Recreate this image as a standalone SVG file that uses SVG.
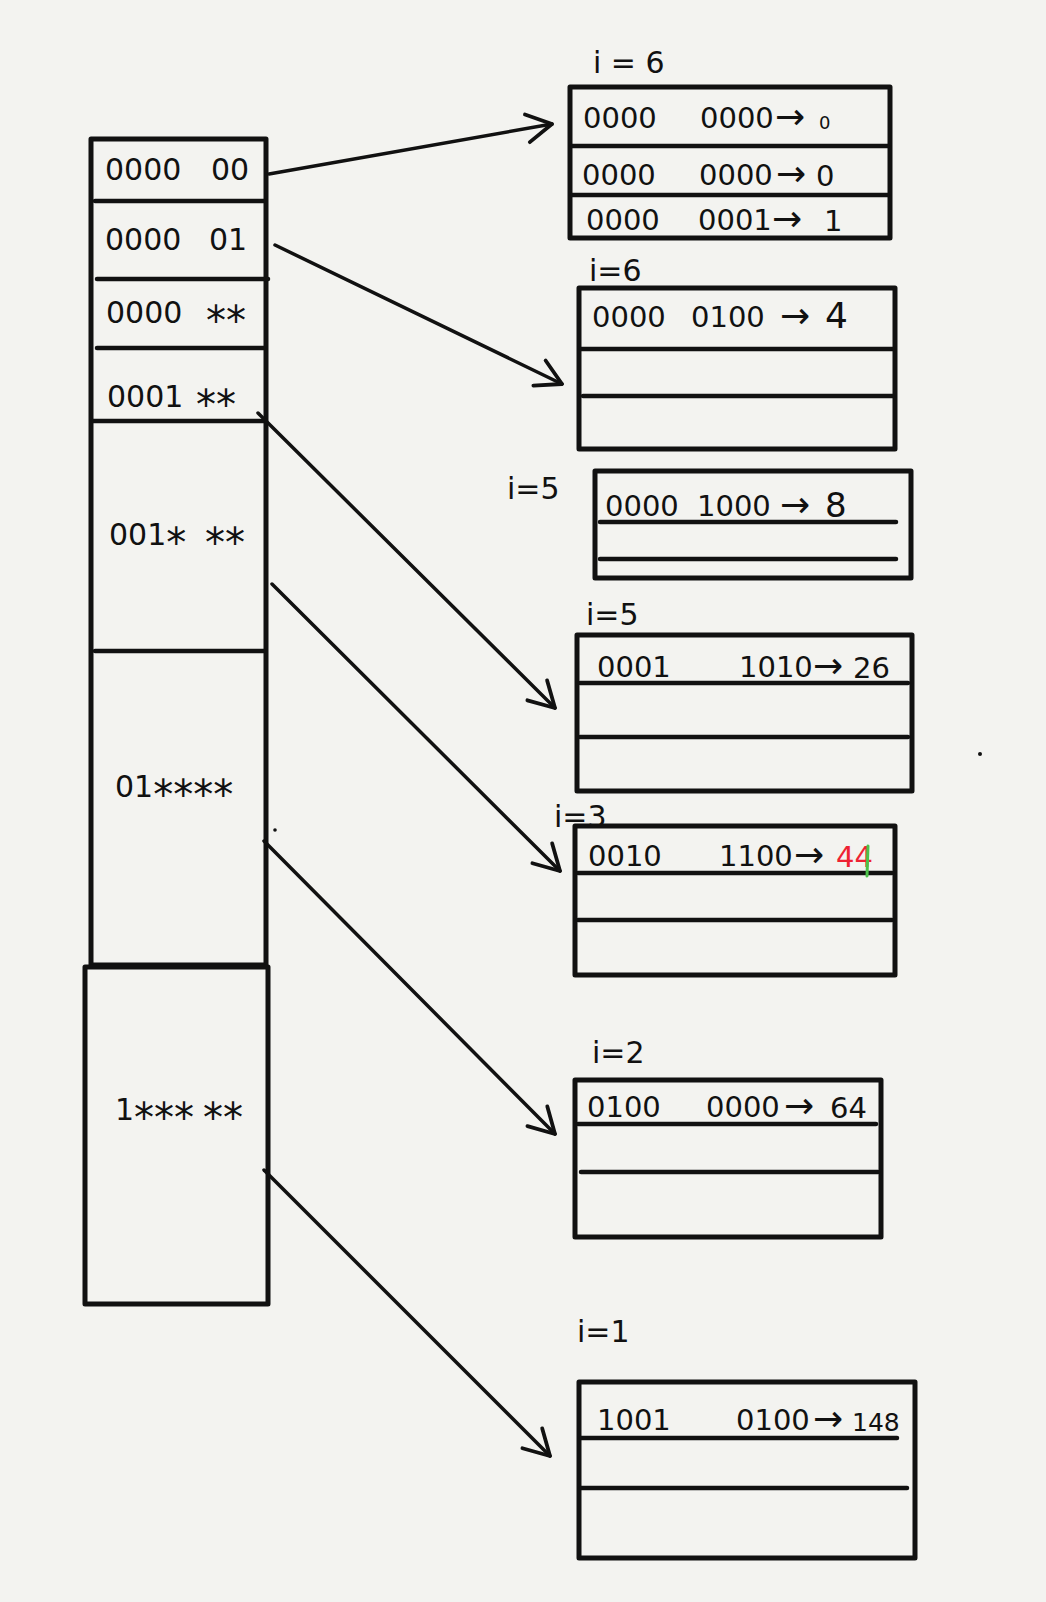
<svg xmlns="http://www.w3.org/2000/svg" width="1046" height="1602" viewBox="0 0 1046 1602">
<style>
.box{fill:none;stroke:#111;stroke-width:5;stroke-linejoin:round}
.ln{stroke:#111;stroke-width:4.5;stroke-linecap:round}
.con{stroke:#111;stroke-width:3.5;stroke-linecap:round;fill:none}
text{font-family:"DejaVu Sans","Liberation Sans",sans-serif;fill:#111}
.t{font-size:29px}
.tl{font-size:30px}
.st{font-size:40px}
.ar{font-size:36px}
.lab{font-size:30px}
</style>
<defs>
<marker id="ah" markerUnits="userSpaceOnUse" markerWidth="40" markerHeight="40" viewBox="-30 -20 40 40" refX="0" refY="0" orient="auto" overflow="visible">
<path d="M-25,-14 L0,0 L-25,14" fill="none" stroke="#111" stroke-width="3.8" stroke-linecap="round" stroke-linejoin="round"/>
</marker>
</defs>
<rect width="1046" height="1602" fill="#f3f3f0"/>

<g id="directory">
<rect class="box" x="91" y="139" width="175" height="826"/>
<line class="ln" x1="95" y1="201" x2="264" y2="201"/>
<line class="ln" x1="97" y1="279" x2="268" y2="279"/>
<line class="ln" x1="97" y1="348" x2="264" y2="348"/>
<line class="ln" x1="93" y1="421" x2="264" y2="421"/>
<line class="ln" x1="95" y1="651" x2="264" y2="651"/>
<rect class="box" x="85" y="967" width="183" height="337"/>
<text class="tl" x="105" y="180">0000<tspan x="211">00</tspan></text>
<text class="tl" x="105" y="250">0000<tspan x="209">01</tspan></text>
<text class="tl" x="106" y="323">0000<tspan class="st" x="206" dy="12">**</tspan></text>
<text class="tl" x="107" y="407">0001<tspan class="st" x="196" dy="12">**</tspan></text>
<text class="tl" x="109" y="545">001<tspan class="st" dy="12">*</tspan><tspan class="st" x="205">**</tspan></text>
<text class="tl" x="115" y="797">01<tspan class="st" dy="12">****</tspan></text>
<text class="tl" x="115" y="1120">1<tspan class="st" dy="12">***</tspan><tspan class="st" x="203">**</tspan></text>
</g>

<g id="bucket1">
<text class="lab" x="593" y="73" font-size="34">i = 6</text>
<rect class="box" x="570" y="87" width="320" height="151"/>
<line class="ln" x1="572" y1="146" x2="888" y2="146"/>
<line class="ln" x1="572" y1="195" x2="888" y2="195"/>
<text class="t" x="583" y="128">0000<tspan x="700">0000</tspan><tspan class="ar" x="775" dy="1">→</tspan><tspan x="819" font-size="18">0</tspan></text>
<text class="t" x="582" y="185">0000<tspan x="699">0000</tspan><tspan class="ar" x="776" dy="1">→</tspan><tspan x="816">0</tspan></text>
<text class="t" x="586" y="230">0000<tspan x="698">0001</tspan><tspan class="ar" x="772" dy="1">→</tspan><tspan x="824">1</tspan></text>
</g>

<g id="bucket2">
<text class="lab" x="589" y="281" font-size="26">i=6</text>
<rect class="box" x="579" y="288" width="316" height="161"/>
<line class="ln" x1="581" y1="349" x2="893" y2="349"/>
<line class="ln" x1="583" y1="396" x2="893" y2="396"/>
<text class="t" x="592" y="327">0000<tspan x="691">0100</tspan><tspan class="ar" x="780" dy="1">→</tspan><tspan x="825" font-size="36">4</tspan></text>
</g>

<g id="bucket3">
<text class="lab" x="507" y="499" font-size="22">i=5</text>
<rect class="box" x="595" y="471" width="316" height="107"/>
<line class="ln" x1="600" y1="522" x2="896" y2="522"/>
<line class="ln" x1="600" y1="559" x2="896" y2="559"/>
<text class="t" x="605" y="516">0000<tspan x="697">1000</tspan><tspan class="ar" x="780" dy="1">→</tspan><tspan x="825" font-size="34">8</tspan></text>
</g>

<g id="bucket4">
<text class="lab" x="586" y="625" font-size="38">i=5</text>
<rect class="box" x="577" y="635" width="335" height="156"/>
<line class="ln" x1="580" y1="683" x2="908" y2="683"/>
<line class="ln" x1="580" y1="737" x2="908" y2="737"/>
<text class="t" x="597" y="677">0001<tspan x="739">1010</tspan><tspan class="ar" x="813" dy="1">→</tspan><tspan x="853">26</tspan></text>
</g>

<g id="bucket5">
<text class="lab" x="554" y="827" font-size="20">i=3</text>
<rect class="box" x="575" y="826" width="320" height="149"/>
<line class="ln" x1="578" y1="873" x2="892" y2="873"/>
<line class="ln" x1="578" y1="920" x2="892" y2="920"/>
<text class="t" x="588" y="866">0010<tspan x="719">1100</tspan><tspan class="ar" x="794" dy="1">→</tspan><tspan x="836" fill="#ee2233">44</tspan></text>
<line x1="868" y1="846" x2="867" y2="876" stroke="#4cc24a" stroke-width="3" stroke-linecap="round"/>
</g>

<g id="bucket6">
<text class="lab" x="592" y="1063">i=2</text>
<rect class="box" x="575" y="1080" width="306" height="157"/>
<line class="ln" x1="578" y1="1124" x2="876" y2="1124"/>
<line class="ln" x1="581" y1="1172" x2="878" y2="1172"/>
<text class="t" x="587" y="1117">0100<tspan x="706">0000</tspan><tspan class="ar" x="784" dy="1">→</tspan><tspan x="830">64</tspan></text>
</g>

<g id="bucket7">
<text class="lab" x="577" y="1342">i=1</text>
<rect class="box" x="579" y="1382" width="336" height="176"/>
<line class="ln" x1="581" y1="1438" x2="897" y2="1438"/>
<line class="ln" x1="581" y1="1488" x2="907" y2="1488"/>
<text class="t" x="597" y="1430">1001<tspan x="736">0100</tspan><tspan class="ar" x="813" dy="1">→</tspan><tspan x="852" font-size="25">148</tspan></text>
</g>

<g id="connectors">
<line class="con" x1="269" y1="174" x2="552" y2="124" marker-end="url(#ah)"/>
<line class="con" x1="275" y1="245" x2="562" y2="384" marker-end="url(#ah)"/>
<line class="con" x1="258" y1="413" x2="555" y2="708" marker-end="url(#ah)"/>
<line class="con" x1="272" y1="584" x2="560" y2="871" marker-end="url(#ah)"/>
<line class="con" x1="264" y1="841" x2="555" y2="1134" marker-end="url(#ah)"/>
<line class="con" x1="264" y1="1170" x2="550" y2="1456" marker-end="url(#ah)"/>
</g>
<circle cx="275" cy="830" r="1.8" fill="#111"/>
<circle cx="980" cy="754" r="2" fill="#111"/>
</svg>
